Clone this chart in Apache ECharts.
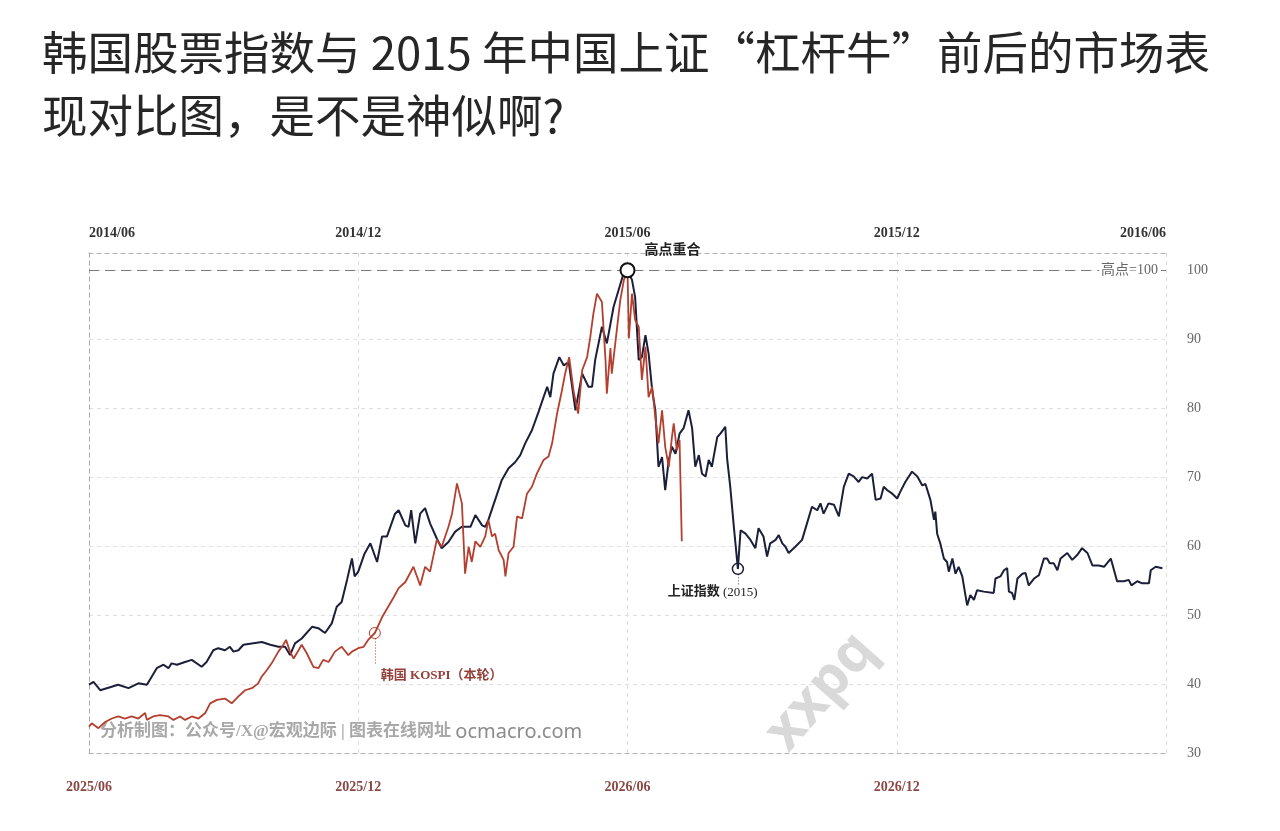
<!DOCTYPE html>
<html>
<head>
<meta charset="utf-8">
<title>韩国股票指数与上证对比</title>
<script src="https://cdn.jsdelivr.net/npm/echarts@6/dist/echarts.min.js"></script>
<style>
    html, body { margin: 0; padding: 0; background: #fff; }
    #main { width: 1280px; height: 831px; }
</style>
</head>
<body>
<div id="main"></div>
<script>
// x = months from the first label (0 .. 24), y = index, peak = 100
var topLabels = ['2014/06', '2014/12', '2015/06', '2015/12', '2016/06'];
var bottomLabels = ['2025/06', '2025/12', '2026/06', '2026/12', ''];
var yTicks = [30, 40, 50, 60, 70, 80, 90, 100];

// 上证指数 (2015)
var sseMonths = [0, 0.10, 0.25, 0.65, 0.88, 1.10, 1.29, 1.51, 1.66, 1.77, 1.84, 1.96, 2.14, 2.29, 2.51, 2.62, 2.77, 2.88,
    3.03, 3.14, 3.22, 3.33, 3.44, 3.85, 4.04, 4.22, 4.37, 4.48, 4.59, 4.74, 4.97, 5.11, 5.26, 5.41, 5.52, 5.63, 5.75, 5.86,
    5.92, 6.00, 6.14, 6.27, 6.42, 6.53, 6.64, 6.82, 6.90, 7.05, 7.12, 7.18, 7.27, 7.38, 7.49, 7.60, 7.75, 7.86, 8.01, 8.16,
    8.31, 8.50, 8.61, 8.76, 8.83, 8.90, 9.05, 9.20, 9.35, 9.50, 9.61, 9.72, 9.87, 10.02, 10.13, 10.21, 10.28, 10.35, 10.48,
    10.58, 10.69, 10.84, 10.99, 11.13, 11.21, 11.28, 11.43, 11.54, 11.69, 11.80, 11.91, 12.00, 12.10, 12.17, 12.25, 12.32,
    12.40, 12.47, 12.55, 12.62, 12.69, 12.77, 12.84, 12.92, 12.99, 13.07, 13.16, 13.25, 13.36, 13.44, 13.51, 13.59, 13.66,
    13.74, 13.81, 13.88, 14.00, 14.07, 14.18, 14.22, 14.29, 14.37, 14.46, 14.52, 14.63, 14.74, 14.85, 14.92, 15.03, 15.11,
    15.18, 15.30, 15.37, 15.45, 15.52, 15.59, 15.74, 15.89, 16.00, 16.11, 16.23, 16.30, 16.37, 16.48, 16.60, 16.71, 16.82,
    16.93, 17.04, 17.15, 17.23, 17.34, 17.45, 17.53, 17.64, 17.71, 17.79, 17.90, 18.01, 18.08, 18.19, 18.34, 18.46, 18.57,
    18.64, 18.75, 18.83, 18.86, 18.90, 18.97, 19.05, 19.12, 19.16, 19.24, 19.31, 19.38, 19.46, 19.53, 19.57, 19.64, 19.72,
    19.79, 19.94, 20.16, 20.20, 20.31, 20.39, 20.46, 20.50, 20.57, 20.62, 20.69, 20.80, 20.87, 20.94, 21.06, 21.17, 21.28,
    21.35, 21.41, 21.50, 21.58, 21.65, 21.80, 21.91, 22.02, 22.13, 22.25, 22.36, 22.50, 22.62, 22.77, 22.91, 23.06, 23.17,
    23.23, 23.36, 23.47, 23.62, 23.66, 23.77, 23.92];
var sseValues = [39.9, 40.3, 39.1, 39.9, 39.4, 40.1, 39.9, 42.3, 42.8, 42.3, 43.0, 42.8, 43.2, 43.5, 42.5, 43.2, 44.9, 45.2,
    44.9, 45.4, 44.7, 44.9, 45.7, 46.1, 45.7, 45.4, 45.4, 44.2, 45.9, 46.6, 48.3, 48.1, 47.4, 48.8, 51.2, 51.9, 55.1, 58.2,
    55.6, 56.3, 58.9, 60.4, 57.7, 61.4, 61.4, 64.7, 65.2, 63.0, 62.8, 65.2, 60.4, 64.7, 65.5, 63.3, 61.1, 59.7, 60.6, 62.1,
    62.8, 62.8, 64.5, 63.0, 62.8, 63.8, 66.7, 69.6, 71.3, 72.2, 73.2, 74.9, 76.8, 79.5, 81.6, 83.1, 81.6, 85.0, 87.4,
    86.2, 86.7, 79.7, 85.0, 83.1, 83.1, 87.0, 91.8, 89.4, 94.7, 97.1, 99.5, 100, 98.6, 96.1, 87.0, 87.4,
    90.6, 87.9, 82.6, 79.7, 71.5, 72.9, 68.1, 72.5, 74.4, 73.4, 76.3, 77.1, 79.7, 77.1, 71.5, 73.2, 70.5,
    70.1, 72.5, 71.5, 75.8, 76.3, 77.3, 72.7, 68.6, 62.8, 56.7, 62.3, 61.8, 60.9, 59.7, 62.6, 61.4, 58.5,
    60.4, 60.9, 61.6, 60.4, 59.9, 59.0, 59.9, 60.9, 63.3, 65.7, 65.2, 66.2, 64.7, 66.2, 66.0, 64.3, 68.6,
    70.5, 70.1, 69.3, 70.0, 69.8, 70.5, 66.7, 66.9, 68.6, 68.1, 67.6, 66.9, 67.9, 69.3, 70.8, 70.1, 68.8,
    69.0, 66.7, 63.8, 65.0, 61.8, 60.4, 58.2, 57.7, 56.3, 58.2, 56.0, 57.0, 55.6, 52.9, 51.4, 52.9, 52.2,
    53.6, 53.4, 53.2, 55.3, 55.6, 56.5, 56.8, 53.4, 53.2, 52.2, 55.3, 56.0, 56.1, 54.3, 55.3, 55.8, 58.2,
    58.2, 57.5, 57.5, 56.5, 58.2, 59.0, 58.0, 58.7, 59.7, 59.0, 57.2, 57.2, 57.0, 58.2, 54.9, 54.9, 55.1,
    54.3, 54.9, 54.6, 54.6, 56.5, 57.0, 56.8];

// 韩国 KOSPI (本轮)
var kospiMonths = [0, 0.06, 0.21, 0.36, 0.51, 0.65, 0.80, 0.95, 1.10, 1.25, 1.29, 1.43, 1.58, 1.77, 1.88, 2.03, 2.14, 2.29,
    2.44, 2.59, 2.70, 2.85, 3.03, 3.18, 3.33, 3.48, 3.63, 3.77, 3.85, 3.96, 4.07, 4.22, 4.33, 4.39, 4.48, 4.56, 4.67, 4.74,
    4.85, 5.00, 5.11, 5.22, 5.34, 5.48, 5.63, 5.78, 5.86, 6.00, 6.12, 6.22, 6.37, 6.54, 6.80, 6.90, 7.05, 7.23, 7.38, 7.49,
    7.60, 7.75, 7.86, 8.01, 8.09, 8.20, 8.31, 8.38, 8.46, 8.53, 8.61, 8.72, 8.83, 8.90, 8.98, 9.05, 9.13, 9.24, 9.28, 9.35,
    9.46, 9.54, 9.65, 9.76, 9.87, 9.98, 10.13, 10.24, 10.32, 10.43, 10.54, 10.61, 10.70, 10.80, 10.90, 10.99, 11.10, 11.17,
    11.24, 11.32, 11.43, 11.51, 11.54, 11.62, 11.65, 11.77, 11.84, 11.92, 12.00, 12.03, 12.10, 12.17, 12.25, 12.32, 12.40,
    12.47, 12.55, 12.62, 12.69, 12.77, 12.84, 12.92, 12.99, 13.03, 13.10, 13.16, 13.21];
var kospiValues = [33.8, 34.3, 33.6, 34.5, 35.0, 35.3, 35.0, 35.3, 35.0, 35.8, 34.8, 35.3, 35.5, 35.3, 34.8, 35.3, 34.8, 35.3,
    35.0, 35.8, 37.2, 37.7, 37.9, 37.2, 38.2, 39.1, 39.4, 40.1, 41.1, 42.0, 43.0, 44.7, 45.7, 46.4, 44.7, 43.7, 44.9, 45.7,
    44.5, 42.5, 42.3, 43.5, 43.2, 44.7, 45.4, 44.2, 44.7, 45.2, 45.4, 46.4, 47.4, 49.8, 52.7, 53.9, 54.8, 57.0, 54.3, 57.0,
    56.3, 60.9, 59.9, 62.8, 64.7, 69.1, 66.2, 56.0, 59.9, 57.7, 60.7, 59.9, 61.4, 63.8, 61.4, 61.8, 59.4, 58.0, 55.6, 59.0,
    59.9, 64.3, 64.0, 67.6, 68.6, 70.5, 72.5, 73.0, 74.9, 79.2, 82.6, 85.0, 87.4, 82.4, 79.2, 85.5, 87.4, 90.3,
    93.7, 96.6, 95.4, 87.0, 82.1, 88.7, 85.0, 91.8, 95.7, 98.6, 100, 90.1, 96.6, 92.8, 91.8, 84.1, 88.9,
    81.6, 83.1, 78.7, 74.9, 79.7, 74.4, 71.5, 75.8, 77.8, 73.9, 75.4, 60.7];

// 标注点：高点重合、上证低点、韩国起点
var peakPoint = [12.00, 100];
var sseLowPoint = [14.46, 56.7];
var kospiMarkPoint = [6.37, 47.4];

function pairs(xs, ys) {
    var out = [];
    xs.forEach(function (x, i) {
        out.push([x, ys[i]]);
    });
    return out;
}

var navy = '#1b1f3a';
var brick = '#b53f2f';
var gridDash = [4, 4];
var serif = "'Liberation Serif', 'DejaVu Serif', serif";
var cjk = "'Liberation Serif', 'Noto Sans CJK SC', serif";

var myChart = echarts.init(document.getElementById('main'));

var option = {
    backgroundColor: '#fff',
    animation: false,
    title: {
        text: '韩国股票指数与 2015 年中国上证“杠杆牛”前后的市场表\n现对比图，是不是神似啊?',
        left: 37,
        top: 16,
        textStyle: {
            fontFamily: "'Noto Sans CJK SC', sans-serif",
            fontSize: 45.5,
            fontWeight: 'normal',
            lineHeight: 63,
            color: '#262626'
        }
    },
    grid: {
        left: 89,
        right: 114,
        top: 253,
        bottom: 78,
        containLabel: false
    },
    xAxis: [{
        type: 'value',
        position: 'top',
        min: 0,
        max: 24,
        interval: 6,
        axisLine: {show: true, onZero: false, lineStyle: {color: '#b0b0b0', type: gridDash}},
        axisTick: {show: false},
        splitLine: {show: true, lineStyle: {color: '#dedede', type: gridDash}},
        axisLabel: {
            margin: 13,
            alignMinLabel: 'left',
            alignMaxLabel: 'right',
            fontFamily: serif,
            fontWeight: 'bold',
            fontSize: 14,
            color: '#333',
            formatter: function (v) {
                return topLabels[Math.round(v / 6)];
            }
        }
    }, {
        type: 'value',
        position: 'bottom',
        min: 0,
        max: 24,
        interval: 6,
        axisLine: {show: true, onZero: false, lineStyle: {color: '#b0b0b0', type: gridDash}},
        axisTick: {show: false},
        splitLine: {show: false},
        axisLabel: {
            margin: 27,
            fontFamily: serif,
            fontWeight: 'bold',
            fontSize: 14,
            color: '#8a4844',
            formatter: function (v) {
                return bottomLabels[Math.round(v / 6)];
            }
        }
    }],
    yAxis: [{
        type: 'value',
        position: 'right',
        min: 30,
        max: 102.5,
        interval: 10,
        axisLine: {show: true, lineStyle: {color: '#b0b0b0', type: gridDash}},
        axisTick: {show: false},
        splitLine: {show: true, lineStyle: {color: '#e0e0e0', type: gridDash}},
        axisLabel: {
            margin: 21,
            showMaxLabel: false,
            fontFamily: serif,
            fontSize: 14,
            color: '#666',
            formatter: function (v) {
                return yTicks.indexOf(v) >= 0 ? String(v) : '';
            }
        }
    }, {
        type: 'value',
        position: 'left',
        min: 30,
        max: 102.5,
        axisLine: {show: true, lineStyle: {color: '#a8a8a8', type: gridDash}},
        axisTick: {show: false},
        axisLabel: {show: false},
        splitLine: {show: false}
    }],
    graphic: [{
        type: 'text',
        left: 100,
        top: 722,
        style: {
            text: '{cn|分析制图：公众号/X@宏观边际 | 图表在线网址 }{url|ocmacro.com}',
            rich: {
                cn: {fontFamily: cjk, fontSize: 17, fontWeight: 'bold', fill: '#a8a8a8'},
                url: {fontFamily: "'Noto Sans', sans-serif", fontSize: 20, fill: '#8c8c8c'}
            }
        },
        z: 1
    }, {
        type: 'text',
        x: 821,
        y: 692,
        rotation: 0.85,
        style: {
            text: 'xxpq',
            fontFamily: "'Noto Sans', sans-serif",
            fontSize: 56,
            fontWeight: 'bold',
            fill: '#d9d9d9',
            align: 'center',
            verticalAlign: 'middle'
        },
        z: 1
    }],
    series: [{
        name: '上证指数 (2015)',
        type: 'line',
        xAxisIndex: 0,
        yAxisIndex: 0,
        data: pairs(sseMonths, sseValues),
        showSymbol: false,
        symbol: 'none',
        z: 3,
        lineStyle: {color: navy, width: 2},
        markLine: {
            silent: true,
            symbol: 'none',
            data: [
                [{coord: [sseLowPoint[0], sseLowPoint[1] - 0.8]}, {coord: [sseLowPoint[0], sseLowPoint[1] - 2.5]}]
            ],
            lineStyle: {color: '#555', width: 1, type: [1, 2]},
            label: {show: false}
        },
        markPoint: {
            silent: true,
            symbol: 'circle',
            data: [{
                coord: peakPoint,
                symbolSize: 14,
                itemStyle: {color: '#fff', borderColor: '#111', borderWidth: 2},
                label: {
                    show: true,
                    formatter: '高点重合',
                    position: [25, -19],
                    fontFamily: cjk,
                    fontWeight: 'bold',
                    fontSize: 14,
                    color: '#222'
                }
            }, {
                coord: sseLowPoint,
                symbolSize: 11,
                itemStyle: {color: 'rgba(255,255,255,0)', borderColor: navy, borderWidth: 1.5},
                label: {
                    show: true,
                    formatter: '{a|上证指数} {b|(2015)}',
                    position: [-64, 23],
                    rich: {
                        a: {fontFamily: cjk, fontWeight: 'bold', fontSize: 13, color: '#222'},
                        b: {fontFamily: serif, fontSize: 13, color: '#222'}
                    }
                }
            }]
        }
    }, {
        name: '韩国 KOSPI（本轮）',
        type: 'line',
        xAxisIndex: 1,
        yAxisIndex: 0,
        data: pairs(kospiMonths, kospiValues),
        showSymbol: false,
        symbol: 'none',
        z: 4,
        lineStyle: {color: brick, width: 1.8},
        markLine: {
            silent: true,
            symbol: 'none',
            data: [
                [{coord: [kospiMarkPoint[0], kospiMarkPoint[1] - 0.8]}, {coord: [kospiMarkPoint[0], kospiMarkPoint[1] - 4.6]}]
            ],
            lineStyle: {color: brick, width: 1, type: [1, 2]},
            label: {show: false}
        },
        markPoint: {
            silent: true,
            symbol: 'circle',
            data: [{
                coord: kospiMarkPoint,
                symbolSize: 11,
                itemStyle: {color: 'rgba(255,255,255,0)', borderColor: brick, borderWidth: 1},
                label: {
                    show: true,
                    formatter: '韩国 KOSPI（本轮）',
                    position: [12, 42],
                    fontFamily: cjk,
                    fontWeight: 'bold',
                    fontSize: 13,
                    color: '#93403a'
                }
            }]
        }
    }, {
        // 高点=100 虚线
        name: 'peak-line',
        type: 'line',
        xAxisIndex: 0,
        yAxisIndex: 0,
        data: [],
        markLine: {
            silent: true,
            symbol: 'none',
            data: [{yAxis: 100}],
            lineStyle: {color: '#7a7a7a', width: 1.2, type: [10, 6]},
            label: {
                show: true,
                formatter: '高点=100',
                position: 'insideEnd',
                distance: 6,
                fontFamily: cjk,
                fontSize: 14,
                color: '#666',
                backgroundColor: '#fff',
                padding: [0, 2]
            }
        }
    }]
};

myChart.setOption(option);
</script>
</body>
</html>
